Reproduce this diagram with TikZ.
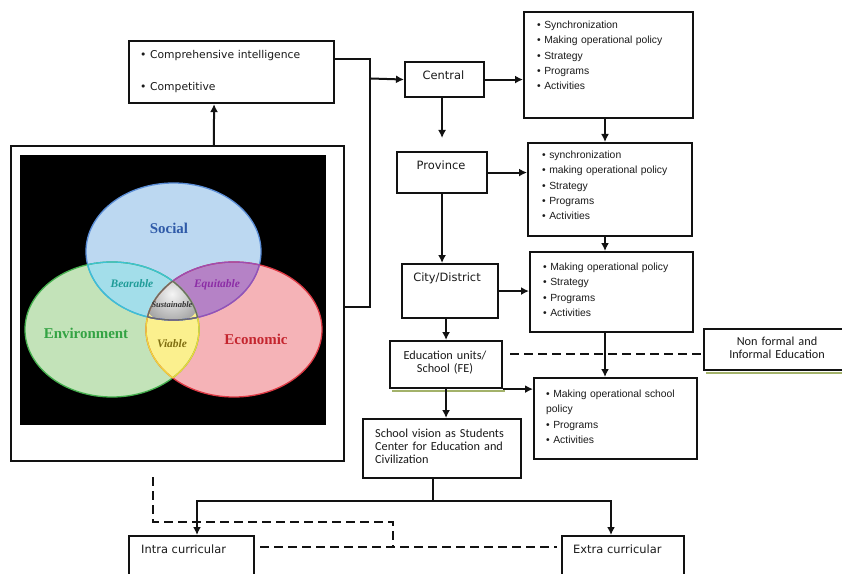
\documentclass[tikz,border=0pt]{standalone}
\usepackage{fontspec}
\setmainfont{DejaVu Sans}
\newfontfamily\dvsans{DejaVu Sans}
\newfontfamily\libsans{Liberation Sans}
\newfontfamily\carlito{Carlito}
\newfontfamily\libserif{Liberation Serif}
\usetikzlibrary{arrows.meta}

\definecolor{ink}{HTML}{121212}
\definecolor{txtc}{HTML}{1A1A1A}
\definecolor{shadowc}{HTML}{A3B26A}
\definecolor{socfill}{HTML}{BCD8F1}
\definecolor{socline}{HTML}{5A8DD6}
\definecolor{envfill}{HTML}{C3E3B9}
\definecolor{envline}{HTML}{45B04E}
\definecolor{ecofill}{HTML}{F5B3B7}
\definecolor{ecoline}{HTML}{DE3A45}
\definecolor{bearfill}{HTML}{A3DEEA}
\definecolor{bearline}{HTML}{3CC2D4}
\definecolor{equifill}{HTML}{B582C6}
\definecolor{equiline}{HTML}{9B4DB4}
\definecolor{viafill}{HTML}{FBF08E}
\definecolor{vialine}{HTML}{EED63A}
\definecolor{susline}{HTML}{6A6A6A}
\definecolor{soctext}{HTML}{2F5AA8}
\definecolor{envtext}{HTML}{33A343}
\definecolor{ecotext}{HTML}{C4252E}
\definecolor{beartext}{HTML}{1F9C98}
\definecolor{equitext}{HTML}{8C2DA6}
\definecolor{viatext}{HTML}{7F6E10}
\definecolor{sustext}{HTML}{333333}

% fonts of the different text groups
\newcommand\fntLevel{\dvsans\fontsize{11.5}{13}\selectfont}
\newcommand\fntGoal{\dvsans\fontsize{10.8}{32}\selectfont}
\newcommand\fntList{\libsans\fontsize{10.4}{15.3}\selectfont}
\newcommand\fntNote{\carlito\fontsize{12.3}{13.2}\selectfont}
\newcommand\fntPillar{\libserif\bfseries\fontsize{15}{17}\selectfont}
\newcommand\fntMix{\libserif\bfseries\itshape\fontsize{11.5}{13}\selectfont}
\newcommand\fntCore{\libserif\bfseries\itshape\fontsize{8.5}{10}\selectfont}

% the three pillars of sustainability
\def\circSocial{(173.5,251.5) ellipse [x radius=87.5bp, y radius=68.5bp]}
\def\circEnv{(112,329.5) ellipse [x radius=87bp, y radius=67.5bp]}
\def\circEco{(234,329.5) ellipse [x radius=88bp, y radius=67.5bp]}

\begin{document}
\begin{tikzpicture}[x=1bp, y=-1bp,
  box/.style={draw=ink, line width=2.1bp, fill=white, inner sep=0pt, anchor=north west},
  conn/.style={draw=ink, line width=2bp},
  arr/.style={conn, -{Latex[length=8bp,width=8bp]}},
  dashline/.style={draw=ink, line width=2bp, dash pattern=on 9bp off 5bp},
  txt/.style={inner sep=0pt, text=txtc},
  pillar/.style={inner sep=0pt, anchor=base, font=\fntPillar},
  mix/.style={inner sep=0pt, anchor=base, font=\fntMix},
  rim/.style={line width=1.3bp},
]
\useasboundingbox (0,0) rectangle (842,574);
\fill[white] (0,0) rectangle (842,574);

% ---------- boxes ----------
\node[box, minimum width=205bp, minimum height=62bp] (tb) at (128,40) {};
\node[box, line width=1.8bp, minimum width=333bp, minimum height=315bp] (venn) at (10,145) {};
\node[box, minimum width=79bp, minimum height=35bp] (central) at (404,61) {};
\node[box, minimum width=90bp, minimum height=41bp] (prov) at (396,151) {};
\node[box, minimum width=96bp, minimum height=54bp] (city) at (401,263) {};
\node[box, minimum width=112bp, minimum height=47bp] (edu) at (389,340) {};
\node[box, minimum width=160bp, minimum height=41bp] (nf) at (703,328) {};
\node[box, minimum width=158bp, minimum height=59bp] (sv) at (362,418) {};
\node[box, minimum width=125bp, minimum height=40bp] (intra) at (128,535) {};
\node[box, minimum width=122bp, minimum height=40bp] (extra) at (561,535) {};
\node[box, minimum width=169bp, minimum height=106bp] (b1) at (523,11) {};
\node[box, minimum width=164bp, minimum height=93bp] (b2) at (527,142) {};
\node[box, minimum width=163bp, minimum height=80bp] (b3) at (529,251) {};
\node[box, minimum width=163bp, minimum height=81bp] (b4) at (533,377) {};

% soft drop shadows under two boxes
\draw[shadowc, line width=1.2bp] ([shift={(3bp,-1.8bp)}]edu.south west) -- ([shift={(2bp,-1.8bp)}]edu.south east);
\draw[shadowc, line width=1.2bp] ([shift={(3bp,-1.8bp)}]nf.south west) -- ([shift={(0bp,-1.8bp)}]nf.south east);

% ---------- Venn diagram ----------
\fill[black] (20,155) rectangle (326,425);
\fill[socfill] \circSocial;
\fill[envfill] \circEnv;
\fill[ecofill] \circEco;
\begin{scope}
  \clip \circSocial;
  \fill[bearfill] \circEnv;
  \fill[equifill] \circEco;
\end{scope}
\begin{scope}
  \clip \circEnv;
  \fill[viafill] \circEco;
\end{scope}
\begin{scope}
  \clip \circSocial; \clip \circEnv; \clip \circEco;
  \shade[inner color=gray!8, outer color=gray!72] (172,294) circle (30bp);
\end{scope}
\draw[socline, rim] \circSocial;
\draw[envline, rim] \circEnv;
\draw[ecoline, rim] \circEco;
\begin{scope}
  \clip \circSocial;
  \draw[bearline, rim] \circEnv;
  \draw[equiline, rim] \circEco;
\end{scope}
\begin{scope}
  \clip \circEnv;
  \draw[bearline, rim] \circSocial;
  \draw[vialine, rim] \circEco;
\end{scope}
\begin{scope}
  \clip \circEco;
  \draw[equiline, rim] \circSocial;
  \draw[vialine, rim] \circEnv;
\end{scope}
\begin{scope}
  \clip \circSocial; \clip \circEnv;
  \draw[susline, rim] \circEco;
\end{scope}
\begin{scope}
  \clip \circSocial; \clip \circEco;
  \draw[susline, rim] \circEnv;
\end{scope}
\begin{scope}
  \clip \circEnv; \clip \circEco;
  \draw[susline, rim] \circSocial;
\end{scope}

\node[pillar, text=soctext] (lsoc) at (169,234) {Social};
\node[pillar, text=envtext] (lenv) at (86,338) {Environment};
\node[pillar, text=ecotext] (leco) at (256,344) {Economic};
\node[mix, text=beartext] (lbear) at (132,287) {Bearable};
\node[mix, text=equitext] (lequi) at (217,287) {Equitable};
\node[mix, text=viatext] (lvia) at (172,347) {Viable};
\node[inner sep=0pt, anchor=base, font=\fntCore, text=sustext] (lsus) at (172,307) {Sustainable};

% ---------- texts ----------
\node[txt, anchor=base west, text width=190bp, align=left, font=\fntGoal] (tb-t) at (140,59)
  {• Comprehensive intelligence\\• Competitive};
\node[txt, anchor=base, font=\fntLevel] (central-t) at (443.5,80) {Central};
\node[txt, anchor=base, font=\fntLevel] (prov-t) at (441,170) {Province};
\node[txt, anchor=base, font=\fntLevel] (city-t) at (447,281) {City/District};
\node[txt, anchor=base, text width=110bp, align=center, font=\fntNote] (edu-t) at (445,359)
  {Education units/\\School (FE)};
\node[txt, anchor=base, text width=130bp, align=center, font=\fntNote] (nf-t) at (777,345)
  {Non formal and\\Informal Education};
\node[txt, anchor=base west, text width=150bp, align=left, font=\fntNote] (sv-t) at (375,437)
  {School vision as Students\\Center for Education and\\Civilization};
\node[txt, anchor=base west, font=\fntLevel] (intra-t) at (141,553) {Intra curricular};
\node[txt, anchor=base west, font=\fntLevel] (extra-t) at (573,553) {Extra curricular};
\node[txt, anchor=base west, text width=150bp, align=left, font=\fntList] (b1-t) at (537,28.7)
  {• Synchronization\\• Making operational policy\\• Strategy\\• Programs\\• Activities};
\node[txt, anchor=base west, text width=145bp, align=left, font=\fntList] (b2-t) at (542,158.7)
  {• synchronization\\• making operational policy\\• Strategy\\• Programs\\• Activities};
\node[txt, anchor=base west, text width=145bp, align=left, font=\fntList] (b3-t) at (543,270.7)
  {• Making operational policy\\• Strategy\\• Programs\\• Activities};
\node[txt, anchor=base west, text width=145bp, align=left, font=\fntList] (b4-t) at (546,397.7)
  {• Making operational school\\policy\\• Programs\\• Activities};

% ---------- connectors ----------
\coordinate (jt) at (370,59);
\coordinate (jb) at (370,307);
\coordinate (jc) at (371,78.5);
\coordinate (colx) at (605,0);
\coordinate (dy) at (0,354);
\coordinate (sj) at (433,501);
\coordinate (ia) at (197,0);
\coordinate (ea) at (611,0);
\coordinate (d0) at (153,477);
\coordinate (d1) at (153,522);
\coordinate (d2) at (393,522);
\coordinate (d3) at (393,547);

\draw[arr] ([xshift=36.5bp]venn.north) -- ([xshift=-17.5bp]tb.south);
\draw[conn] (tb.east |- jt) -- (jt) -- (jb) -- (venn.east |- jb);
\draw[arr] (jc) -- (central.west);
\draw[arr] (central.east) -- (central.east -| b1.west);
\draw[arr, shorten >=13bp] (central.south -| prov.north) -- (prov.north);
\draw[arr] (prov.east) -- (prov.east -| b2.west);
\draw[arr] (prov.south) -- (prov.south |- city.north);
\draw[arr] (city.east) -- (city.east -| b3.west);
\draw[arr] (city.south -| edu.north) -- (edu.north);
\draw[arr] (edu.south east) -- (edu.south east -| b4.west);
\draw[arr] (edu.south) -- (edu.south |- sv.north);
\draw[arr] (b1.south -| colx) -- (b2.north -| colx);
\draw[arr] (b2.south -| colx) -- (b3.north -| colx);
\draw[arr] (b3.south -| colx) -- (b4.north -| colx);
\draw[dashline, shorten <=7bp] (edu.east |- dy) -- (nf.west |- dy);
\draw[conn] (sv.south -| sj) -- (sj);
\draw[arr] (sj) -| (intra.north -| ia);
\draw[arr] (sj) -| (extra.north -| ea);
\draw[dashline] (d0) -- (d1) -- (d2) -- (d3);
\draw[dashline, shorten <=5bp, shorten >=4bp] (intra.east |- d3) -- (extra.west |- d3);
\end{tikzpicture}
\end{document}
